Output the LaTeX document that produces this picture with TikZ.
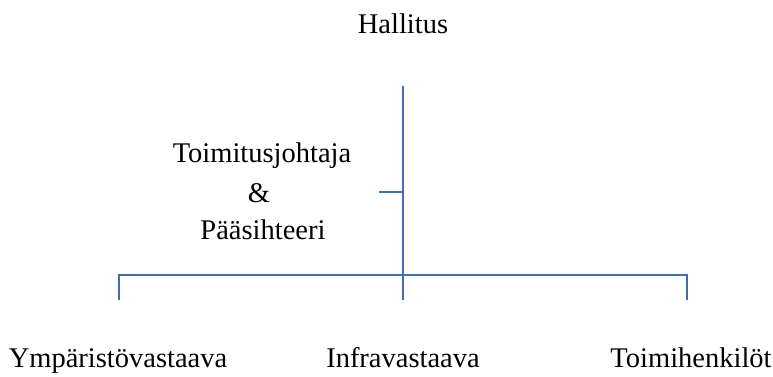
\documentclass[tikz,border=0pt]{standalone}
\usepackage{fontspec}
\setmainfont{Liberation Serif}
\definecolor{orgline}{RGB}{66,110,170}
\begin{document}
\begin{tikzpicture}[x=1pt,y=-1pt,
  lbl/.style={font=\fontsize{28.5}{34}\selectfont, inner sep=0pt, anchor=base},
  conn/.style={draw=orgline, line width=2pt}]
\useasboundingbox (0,0) rectangle (773,376);
\node[lbl] (hall) at (403,33) {Hallitus};
\node[lbl] (toim) at (262,162) {Toimitusjohtaja};
\node[lbl] (amp) at (259,202) {\&};
\node[lbl] (paa) at (263,239) {Pääsihteeri};
\node[lbl] (ymp) at (118,367) {Ympäristövastaava};
\node[lbl] (infra) at (403,367) {Infravastaava};
\node[lbl] (hlo) at (691,367) {Toimihenkilöt};
\coordinate (top) at (403,86);
\coordinate (tick) at (379,192);
\coordinate (tickj) at (403,192);
\coordinate (lb) at (119,275);
\coordinate (rb) at (687,275);
\coordinate (le) at (119,300);
\coordinate (me) at (403,300);
\coordinate (re) at (687,300);
\draw[conn] (top) -- (me);
\draw[conn] (tick) -- (tickj);
\draw[conn] (le) -- (lb) -- (rb) -- (re);
\end{tikzpicture}
\end{document}
